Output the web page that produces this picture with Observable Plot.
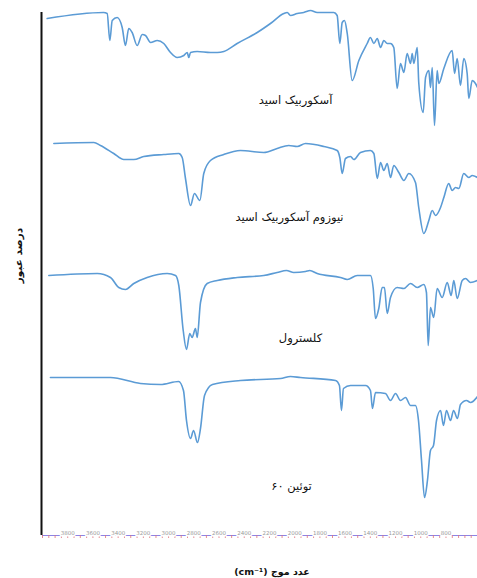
<!DOCTYPE html>
<html>
<head>
<meta charset="utf-8">
<script src="https://cdn.jsdelivr.net/npm/d3@7"></script>
<script src="https://cdn.jsdelivr.net/npm/@observablehq/plot@0.6"></script>
<style>
  body { margin: 0; background: #fff; }
  #wrap { position: relative; width: 477px; height: 578px; font-family: "DejaVu Sans", sans-serif; }
  #xtitle { position: absolute; top: 566px; left: 272px; transform: translateX(-50%); white-space: nowrap;
            font: bold 9.5px "DejaVu Sans", sans-serif; color: #111; }
</style>
</head>
<body>
<div id="wrap"><div id="xtitle" dir="rtl">عدد موج (cm⁻¹)</div></div>
<script>
// FTIR spectra (wavenumber in cm-1, transmittance in arbitrary units)
const ascorbicWn = [3963,3516,3487,3466,3447,3408,3368,3342,3316,3289,3249,3209,3183,3143,3090,3038,2985,2932,2879,2852,2840,2826,2773,2668,2614,2562,2456,2297,2192,2086,2059,2033,1980,1928,1874,1821,1690,1663,1642,1623,1605,1583,1544,1491,1425,1399,1372,1345,1319,1293,1266,1240,1214,1187,1161,1134,1108,1081,1068,1055,1028,1016,981,962,936,923,909,891,870,857,817,751,732,711,685,659,632,619,592,566,550];
const ascorbicT  = [127,133,132,105,125,128,118,100,117,113,100,111,110,103,105,102,93,88,90,93,88,93,94,93,93,94,102,113,122,132,133,130,132,133,135,133,133,130,102,123,125,112,65,85,102,108,102,107,98,105,102,102,98,57,82,73,92,82,92,82,98,63,33,68,75,58,78,20,75,62,77,95,72,87,60,87,72,47,65,62,58];

const niosomeWn = [3910,3593,3540,3435,3355,3276,3197,3038,2919,2892,2866,2826,2795,2752,2721,2668,2562,2430,2245,2139,2047,1980,1914,1769,1663,1642,1623,1597,1557,1531,1478,1399,1372,1345,1319,1293,1266,1240,1214,1174,1134,1095,1042,1016,976,936,909,883,843,817,778,751,724,698,659,619,592,550];
const niosomeT  = [132,133,130,122,116,116,119,121,122,118,97,70,82,75,102,115,121,125,123,127,130,129,132,129,125,118,102,117,119,116,123,125,122,97,113,105,112,98,110,103,95,102,93,68,42,55,65,60,68,78,92,85,88,87,102,98,100,98];

const cholesterolWn = [3950,3566,3461,3395,3342,3276,3170,3011,2945,2919,2884,2858,2832,2813,2787,2773,2747,2694,2614,2456,2245,2139,2065,2007,1914,1880,1821,1637,1583,1504,1399,1377,1359,1333,1306,1288,1266,1240,1187,1134,1081,1028,976,955,941,923,897,870,830,790,759,738,711,671,645,605,550];
const cholesterolT  = [130,132,128,118,116,122,128,132,130,120,75,56,72,68,77,68,103,122,125,128,130,133,135,133,134,135,132,128,126,130,130,117,87,97,118,118,92,108,118,117,122,118,121,113,60,98,88,117,108,123,110,125,107,125,127,123,125];

const tweenWn = [3937,3461,3223,3064,2921,2882,2858,2826,2802,2771,2747,2715,2652,2430,2112,2033,1954,1676,1645,1629,1613,1557,1438,1399,1383,1359,1280,1240,1200,1161,1121,1081,1042,1018,994,970,947,923,899,875,843,820,796,764,740,709,685,637,605,550];
const tweenT  = [158,158,152,151,154,145,115,97,105,93,107,140,151,155,157,159,158,155,150,125,147,150,150,145,127,143,142,135,142,135,138,130,130,115,75,38,55,85,90,115,125,110,125,115,125,117,131,135,133,139];

const names = ["آسکوربیک اسید", "نیوزوم آسکوربیک اسید", "کلسترول", "توئین ۶۰"];
const tickLabels = [3800,3600,3400,3200,3000,2800,2600,2400,2200,2000,1800,1600,1400,1200,1000,800];
const yTitle = "درصد عبور";

// vertical stacking of the four traces and placement of their captions
const offsets = [390, 260, 130, 0];
const captionAt = [[1993, 45], [2041, 58], [1954, 67], [2025, 49]];

const series = [
  [ascorbicWn, ascorbicT],
  [niosomeWn, niosomeT],
  [cholesterolWn, cholesterolT],
  [tweenWn, tweenT]
];
const rows = series.flatMap(([wn, t], i) =>
  wn.map((w, j) => ({name: names[i], x: w, y: t[j] + offsets[i]})));
const captions = names.map((n, i) => ({name: n, x: captionAt[i][0], y: captionAt[i][1] + offsets[i]}));
const minorTicks = d3.range(4000, 549, -50);

const blue = "#5b9bd5";

const chart = Plot.plot({
  width: 477,
  height: 556,
  marginLeft: 42,
  marginRight: 0,
  marginTop: 0,
  marginBottom: 21,
  style: {fontFamily: "DejaVu Sans, sans-serif", background: "#fff"},
  x: {domain: [4000, 550], range: [42, 477], axis: null},
  y: {domain: [0, 535], range: [535, 0], axis: null},
  marks: [
    // bottom axis: light purple base line, red ticks, grey labels sitting on the line
    Plot.ruleY([0], {stroke: "#8c84e6", strokeWidth: 1}),
    Plot.axisX(minorTicks, {tickSize: 3, text: null, label: null, stroke: "#e0707a", strokeWidth: 0.8}),
    Plot.text(tickLabels, {x: d => d, y: 0, text: d => String(d), fontSize: 5.5, fill: "#9a9a9a",
      stroke: "#fff", strokeWidth: 3, dy: -2}),
    // left axis line
    Plot.ruleX([4000], {y1: 0, y2: 523, stroke: "#111", strokeWidth: 2, dx: -1}),
    // spectra
    Plot.line(rows, {x: "x", y: "y", z: "name", stroke: blue, strokeWidth: 1.6, curve: "monotone-x"}),
    // compound captions
    Plot.text(captions, {x: "x", y: "y", text: "name", fontSize: 11.5, fill: "#111"}),
    // y title
    Plot.text([yTitle], {frameAnchor: "left", textAnchor: "middle", y: 280, dx: -24, rotate: -90,
      fontSize: 10.5, fontWeight: "bold", fill: "#111"})
  ]
});
document.getElementById("wrap").prepend(chart);
</script>
</body>
</html>
